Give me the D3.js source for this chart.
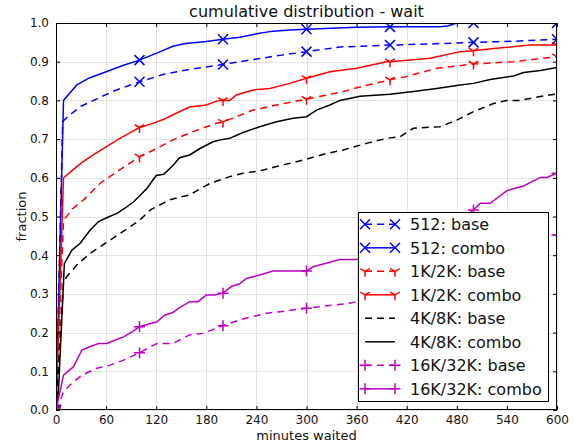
<!DOCTYPE html>
<html><head><meta charset="utf-8">
<script src="https://cdn.jsdelivr.net/npm/d3@7/dist/d3.min.js"></script>
<style>
body{margin:0;background:#fff;}
svg{display:block;font-family:"DejaVu Sans",sans-serif;}
</style></head>
<body><svg id="c" width="575" height="444"></svg>
<script>
// ---- data: [minutes waited, fraction] ----
const xTicks = [0,60,120,180,240,300,360,420,480,540,600];
const yTicks = [0,0.1,0.2,0.3,0.4,0.5,0.6,0.7,0.8,0.9,1.0];

const s512base = [[0,0],[8,0.745],[15,0.76],[30,0.785],[45,0.80],[70,0.825],[100,0.848],[130,0.868],[160,0.88],[200,0.893],[240,0.907],[270,0.917],[300,0.926],[340,0.938],[400,0.943],[450,0.946],[500,0.950],[550,0.953],[600,0.958]];
const s512combo = [[0,0],[9,0.80],[15,0.815],[25,0.84],[40,0.858],[60,0.874],[80,0.89],[100,0.904],[125,0.926],[140,0.94],[155,0.947],[180,0.952],[200,0.958],[220,0.963],[240,0.972],[260,0.979],[280,0.982],[300,0.984],[360,0.989],[400,0.99],[460,0.99],[470,0.993],[480,1.0],[500,1.0],[600,1.0]];
const s1kbase = [[0,0],[9,0.49],[20,0.52],[33,0.543],[53,0.586],[73,0.616],[100,0.654],[120,0.675],[140,0.698],[165,0.72],[192,0.741],[200,0.744],[236,0.775],[264,0.788],[300,0.803],[344,0.823],[370,0.838],[400,0.853],[420,0.862],[456,0.883],[500,0.894],[548,0.900],[600,0.913]];
const s1kcombo = [[0,0],[9,0.60],[20,0.62],[30,0.638],[45,0.66],[60,0.68],[75,0.70],[90,0.718],[100,0.73],[115,0.74],[130,0.752],[145,0.768],[160,0.783],[180,0.788],[195,0.80],[200,0.80],[208,0.80],[216,0.814],[236,0.827],[256,0.831],[280,0.844],[300,0.857],[328,0.874],[360,0.883],[396,0.90],[400,0.90],[448,0.909],[484,0.926],[500,0.928],[524,0.934],[568,0.943],[600,0.943]];
const s4kbase = [[0,0],[9,0.33],[13,0.345],[25,0.375],[41,0.405],[65,0.439],[89,0.474],[100,0.49],[113,0.517],[136,0.543],[160,0.556],[184,0.585],[208,0.603],[224,0.612],[244,0.618],[264,0.629],[300,0.648],[324,0.663],[344,0.672],[372,0.689],[396,0.702],[412,0.706],[428,0.728],[460,0.732],[480,0.749],[500,0.771],[524,0.792],[540,0.80],[556,0.80],[580,0.81],[600,0.817]];
const s4kcombo = [[0,0],[3,0.05],[10,0.378],[19,0.413],[29,0.431],[41,0.465],[51,0.487],[62,0.498],[73,0.508],[83,0.522],[93,0.538],[100,0.553],[109,0.573],[120,0.606],[129,0.609],[140,0.632],[148,0.652],[160,0.659],[172,0.675],[188,0.693],[197,0.698],[208,0.702],[224,0.717],[244,0.732],[264,0.745],[284,0.754],[300,0.758],[312,0.775],[328,0.788],[340,0.80],[364,0.811],[400,0.816],[428,0.823],[456,0.831],[484,0.840],[500,0.844],[520,0.854],[548,0.863],[560,0.872],[580,0.877],[600,0.885]];
const s16kbase = [[0,0],[3,0.013],[9,0.047],[17,0.065],[31,0.09],[49,0.108],[65,0.116],[81,0.129],[100,0.148],[121,0.172],[140,0.172],[160,0.194],[176,0.198],[200,0.218],[220,0.233],[252,0.25],[268,0.254],[300,0.263],[352,0.276],[400,0.30],[450,0.33],[500,0.37],[550,0.42],[590,0.45],[600,0.452]];
const s16kcombo = [[0,0],[9,0.09],[21,0.112],[31,0.155],[41,0.164],[51,0.172],[61,0.172],[71,0.181],[81,0.189],[91,0.202],[100,0.215],[121,0.228],[130,0.245],[140,0.252],[150,0.267],[160,0.28],[170,0.28],[180,0.297],[190,0.297],[200,0.302],[210,0.319],[220,0.326],[228,0.34],[244,0.349],[260,0.359],[300,0.359],[308,0.37],[340,0.389],[360,0.389],[400,0.40],[450,0.45],[490,0.50],[500,0.517],[508,0.534],[520,0.534],[540,0.567],[560,0.579],[580,0.601],[588,0.601],[600,0.612]];

const seriesNames = ["512: base","512: combo","1K/2K: base","1K/2K: combo","4K/8K: base","4K/8K: combo","16K/32K: base","16K/32K: combo"];
const seriesData = [s512base,s512combo,s1kbase,s1kcombo,s4kbase,s4kcombo,s16kbase,s16kcombo];
const seriesColor = ["#0000ff","#0000ff","#ff0000","#ff0000","#000000","#000000","#bf00bf","#bf00bf"];
const seriesDashed = [true,false,true,false,true,false,true,false];
const seriesMarker = ["x","x","tri","tri",null,null,"plus","plus"];

// ---- layout ----
const svg = d3.select("#c");
const L=56, R=557, T=23, B=410;
const x = d3.scaleLinear().domain([0,600]).range([L,R]);
const y = d3.scaleLinear().domain([0,1]).range([B,T]);

svg.append("defs").append("clipPath").attr("id","clip")
  .append("rect").attr("x",L).attr("y",T).attr("width",R-L).attr("height",B-T);

// grid
const grid = svg.append("g");
grid.selectAll(".gx").data(xTicks).join("line")
  .attr("x1",d=>Math.round(x(d))+0.5).attr("x2",d=>Math.round(x(d))+0.5)
  .attr("y1",T).attr("y2",B).attr("stroke","#dcdcdc").attr("stroke-width",0.8);
grid.selectAll(".gy").data(yTicks).join("line")
  .attr("y1",d=>Math.round(y(d))+0.5).attr("y2",d=>Math.round(y(d))+0.5)
  .attr("x1",L).attr("x2",R).attr("stroke","#dcdcdc").attr("stroke-width",0.8);

// lines
const line = d3.line().x(d=>x(d[0])).y(d=>y(d[1]));
const plot = svg.append("g").attr("clip-path","url(#clip)");

function markerPath(type,r){
  if(type==="x") return `M${-r},${-r}L${r},${r}M${-r},${r}L${r},${-r}`;
  if(type==="plus") return `M${-r},0L${r},0M0,${-r}L0,${r}`;
  if(type==="tri") { const a=r*0.866, b=r*0.5; return `M0,0L0,${r}M0,0L${-a},${-b}M0,0L${a},${-b}`; }
  return "";
}
const markerSize = {x:5, tri:5.5, plus:5.5};

seriesData.forEach((data,i)=>{
  plot.append("path").datum(data).attr("d",line)
    .attr("fill","none").attr("stroke",seriesColor[i]).attr("stroke-width",1.5)
    .attr("stroke-dasharray",seriesDashed[i]?"7,5":null);
  const mk = seriesMarker[i];
  if(mk){
    plot.selectAll(null).data(data.filter(d=>d[0]%100===0)).join("path")
      .attr("transform",d=>`translate(${x(d[0])},${y(d[1])})`)
      .attr("d",markerPath(mk,markerSize[mk]))
      .attr("fill","none").attr("stroke",seriesColor[i]).attr("stroke-width",1.5);
  }
});

// axes
const fmt = d3.format(".1f");
const axB = svg.append("g").attr("transform",`translate(0,${B})`)
  .call(d3.axisBottom(x).tickValues(xTicks).tickSizeInner(-4).tickSizeOuter(0).tickPadding(5).tickFormat(d3.format("d")));
const axT = svg.append("g").attr("transform",`translate(0,${T})`)
  .call(d3.axisTop(x).tickValues(xTicks).tickSizeInner(-4).tickSizeOuter(0).tickFormat(""));
const axLf = svg.append("g").attr("transform",`translate(${L},0)`)
  .call(d3.axisLeft(y).tickValues(yTicks).tickSizeInner(-4).tickSizeOuter(0).tickPadding(7).tickFormat(fmt));
const axRt = svg.append("g").attr("transform",`translate(${R},0)`)
  .call(d3.axisRight(y).tickValues(yTicks).tickSizeInner(-4).tickSizeOuter(0).tickFormat(""));
[axB,axT,axLf,axRt].forEach(a=>{
  a.select(".domain").remove();
  a.selectAll(".tick line").attr("stroke","#000").attr("stroke-width",1);
  a.selectAll(".tick text").attr("fill","#111").attr("font-size",12).attr("font-family","DejaVu Sans");
});
// frame
svg.append("rect").attr("x",L+0.5).attr("y",T+0.5).attr("width",R-L-1).attr("height",B-T-1)
  .attr("fill","none").attr("stroke","#000").attr("stroke-width",1);

// labels
svg.append("text").attr("x",(L+R)/2).attr("y",17).attr("text-anchor","middle")
  .attr("font-size",16).attr("fill","#111").text("cumulative distribution - wait");
svg.append("text").attr("x",(L+R)/2).attr("y",440).attr("text-anchor","middle")
  .attr("font-size",13).attr("fill","#111").text("minutes waited");
svg.append("text").attr("transform","translate(26,216.5) rotate(-90)").attr("text-anchor","middle")
  .attr("font-size",13).attr("fill","#111").text("fraction");

// legend
const lg = svg.append("g");
lg.append("rect").attr("x",358.5).attr("y",212.5).attr("width",190).attr("height",189)
  .attr("fill","#fff").attr("stroke","#000").attr("stroke-width",1);
seriesNames.forEach((name,i)=>{
  const cy = 224.3 + i*23.5;
  lg.append("line").attr("x1",365).attr("x2",395).attr("y1",cy).attr("y2",cy)
    .attr("stroke",seriesColor[i]).attr("stroke-width",1.5)
    .attr("stroke-dasharray",seriesDashed[i]?"7,5":null);
  const mk = seriesMarker[i];
  if(mk){
    [365,395].forEach(px=>{
      lg.append("path").attr("transform",`translate(${px},${cy})`)
        .attr("d",markerPath(mk,markerSize[mk])).attr("fill","none")
        .attr("stroke",seriesColor[i]).attr("stroke-width",1.5);
    });
  }
  lg.append("text").attr("x",410).attr("y",cy).attr("dy","0.36em")
    .attr("font-size",16).attr("fill","#111").text(name);
});
</script></body></html>
